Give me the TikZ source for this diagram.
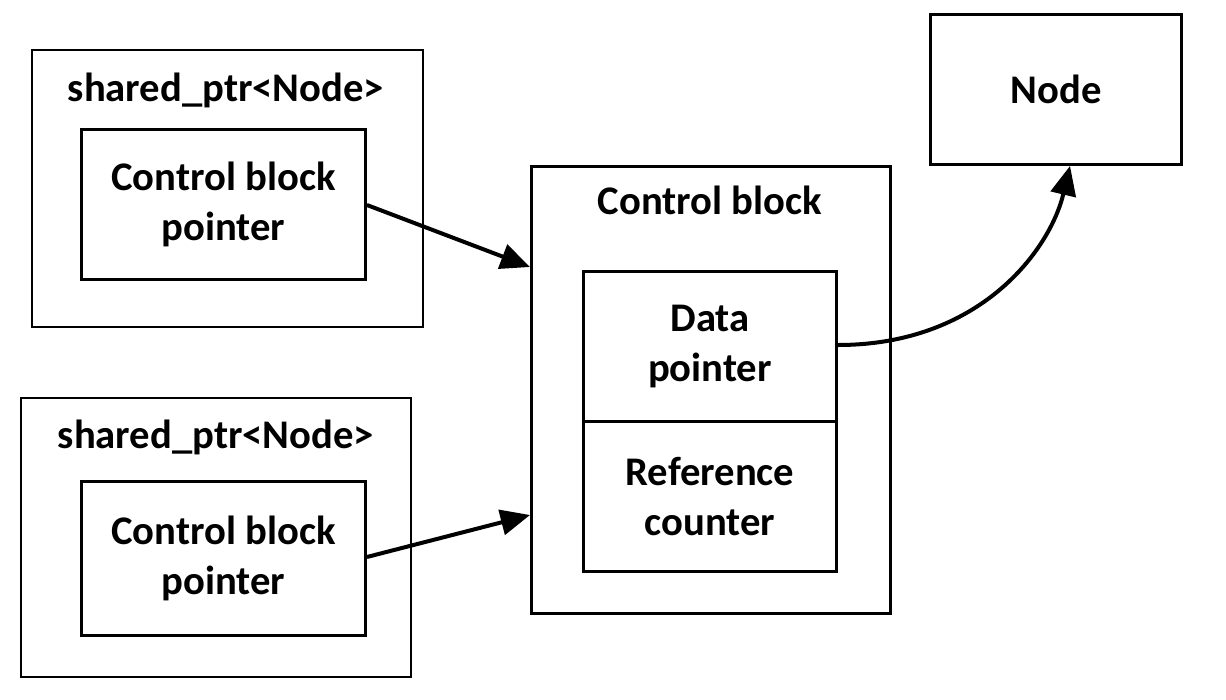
\documentclass[tikz,border=0pt]{standalone}
\usepackage{fontspec}
\setmainfont{Carlito}
\usetikzlibrary{arrows.meta}
\begin{document}
\begin{tikzpicture}[x=0.75pt,y=-0.75pt,
  box/.style={draw, line width=2.2pt},
  lbl/.style={font=\bfseries\fontsize{30.5}{37}\selectfont, align=center, inner sep=0pt},
  conn/.style={line width=3pt, -{Triangle[length=22pt,width=19pt]}}]
\useasboundingbox (0,0) rectangle (1226,699);
% left top
\draw[box] (32,50) rectangle (423,327);
\node[lbl] (t1) at (226,90) {shared\_ptr<Node>};
\node[box, minimum width=284*0.75pt, minimum height=150*0.75pt, anchor=north west] (p1) at (80,128) {};
\node[lbl] at (p1.center) {Control block\\pointer};
% left bottom
\draw[box] (21,398) rectangle (411,677);
\node[lbl] (t2) at (216,437) {shared\_ptr<Node>};
\node[box, minimum width=284*0.75pt, minimum height=154*0.75pt, anchor=north west] (p2) at (80,480) {};
\node[lbl] at (p2.center) {Control block\\pointer};
% control block
\node[box, minimum width=359*0.75pt, minimum height=447*0.75pt, anchor=north west] (cb) at (530,165) {};
\node[lbl] (cbt) at (710,200) {Control block};
\node[box, minimum width=253*0.75pt, minimum height=150*0.75pt, anchor=north west] (dp) at (582,270) {};
\node[lbl] at (dp.center) {Data\\pointer};
\node[box, minimum width=253*0.75pt, minimum height=150*0.75pt, anchor=north west] (rc) at (582,420) {};
\node[lbl] at (rc.center) {Reference\\counter};
% node
\node[box, minimum width=251*0.75pt, minimum height=150*0.75pt, anchor=north west] (nd) at (929,13) {};
\node[lbl] at (nd.center) {Node};
% connectors
\draw[conn] (p1.east |- 0,205) -- (cb.west |- 0,267);
\draw[conn] (p2.east |- 0,557) -- (cb.west |- 0,515);
\draw[conn] (dp.east |- 0,345) .. controls (980,345) and (1050,250) .. (nd.south -| 1070,0);
\end{tikzpicture}
\end{document}
